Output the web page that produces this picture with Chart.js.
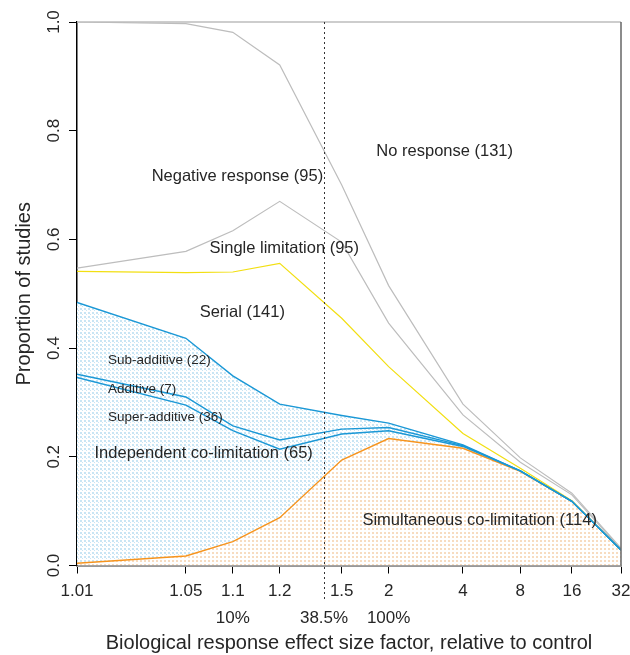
<!DOCTYPE html>
<html>
<head>
<meta charset="utf-8">
<script src="https://cdn.jsdelivr.net/npm/chart.js@4.4.1/dist/chart.umd.min.js"></script>
<style>
    html, body { margin: 0; padding: 0; background: #fff; }
</style>
</head>
<body>
<canvas id="graficoLimitacao" width="630" height="655"></canvas>
<script>
// fator de efeito (eixo x) e fronteiras acumuladas de cada categoria
const fatores = [1.01, 1.05, 1.1, 1.2, 1.5, 2, 4, 8, 16, 32];
const semResposta = [1.0, 0.997, 0.981, 0.921, 0.70, 0.515, 0.297, 0.198, 0.133, 0.032];
const respostaNegativa = [0.547, 0.578, 0.616, 0.670, 0.595, 0.446, 0.277, 0.190, 0.130, 0.030];
const limitacaoSimples = [0.541, 0.539, 0.540, 0.556, 0.455, 0.366, 0.243, 0.179, 0.119, 0.0285];
const serial = [0.484, 0.418, 0.349, 0.297, 0.276, 0.262, 0.222, 0.174, 0.118, 0.0285];
const subAditivo = [0.352, 0.310, 0.257, 0.231, 0.251, 0.254, 0.2205, 0.174, 0.118, 0.0285];
const aditivo = [0.346, 0.295, 0.248, 0.214, 0.242, 0.248, 0.219, 0.174, 0.118, 0.0285];
const simultanea = [0.004, 0.0175, 0.044, 0.088, 0.194, 0.2335, 0.2157, 0.173, 0.118, 0.0285];

const rotulosX = ['1.01', '1.05', '1.1', '1.2', '1.5', '2', '4', '8', '16', '32'];
const fatoresPct = [1.1, 1.385, 2];
const rotulosPct = ['10%', '38.5%', '100%'];
const ticksY = [0, 0.2, 0.4, 0.6, 0.8, 1.0];
const rotulosY = ['0.0', '0.2', '0.4', '0.6', '0.8', '1.0'];
const linhaReferencia = 1.385;

// rótulos de texto dentro do gráfico: [texto, fator, proporção, tamanho, alinhamento]
const anotacoes = [
    ['No response (131)', 3.29, 0.762, 16.5, 'center'],
    ['Negative response (95)', 1.107, 0.715, 16.5, 'center'],
    ['Single limitation (95)', 1.214, 0.584, 16.5, 'center'],
    ['Serial (141)', 1.115, 0.465, 16.5, 'center'],
    ['Sub-additive (22)', 1.0158, 0.378, 13.5, 'left'],
    ['Additive (7)', 1.0158, 0.324, 13.5, 'left'],
    ['Super-additive (36)', 1.0158, 0.272, 13.5, 'left'],
    ['Independent co-limitation (65)', 1.065, 0.2065, 16.5, 'center'],
    ['Simultaneous co-limitation (114)', 4.84, 0.0837, 16.5, 'center']
];

const fonte = 'Liberation Sans, Arial, sans-serif';
const corTexto = '#262626';

function pontos(valores) {
    return fatores.map((f, i) => ({ x: f - 1, y: valores[i] }));
}

function padrao(cor, celulas) {
    const c = document.createElement('canvas');
    c.width = 4;
    c.height = 4;
    const g = c.getContext('2d');
    g.fillStyle = '#ffffff';
    g.fillRect(0, 0, 4, 4);
    g.fillStyle = cor;
    celulas.forEach(([x, y, w]) => g.fillRect(x, y, w, w));
    return g.createPattern(c, 'repeat');
}

const padraoAzul = padrao('#c9e5f4', [[0, 0, 2], [2, 2, 1]]);
const padraoLaranja = padrao('#f7dcc0', [[0, 0, 2]]);

function linha(valores, cor, largura, ordem, extra) {
    return Object.assign({
        data: pontos(valores),
        borderColor: cor,
        borderWidth: largura,
        pointRadius: 0,
        tension: 0,
        fill: false,
        order: ordem
    }, extra || {});
}

function ajustarEixoX(altura) {
    return s => {
        s.height = altura;
        s.paddingLeft = 0;
        s.paddingRight = 9;
    };
}

const decoracao = {
    id: 'decoracao',
    afterDatasetsDraw(chart) {
        const { ctx, chartArea: a, scales: { x, y } } = chart;
        ctx.save();
        // moldura superior e direita
        ctx.lineWidth = 1.5;
        ctx.strokeStyle = '#bdbdbd';
        ctx.beginPath();
        ctx.moveTo(a.left, a.top);
        ctx.lineTo(a.right, a.top);
        ctx.stroke();
        ctx.strokeStyle = '#666';
        ctx.beginPath();
        ctx.moveTo(a.right, a.top);
        ctx.lineTo(a.right, a.bottom);
        ctx.stroke();

        // linha pontilhada de referência
        const xl = Math.round(x.getPixelForValue(linhaReferencia - 1)) + 0.5;
        ctx.setLineDash([2, 3]);
        ctx.lineWidth = 1;
        ctx.strokeStyle = '#333';
        ctx.beginPath();
        ctx.moveTo(xl, a.top);
        ctx.lineTo(xl, a.bottom + 36);
        ctx.stroke();
        ctx.setLineDash([]);

        // rótulos das categorias
        ctx.fillStyle = corTexto;
        ctx.textBaseline = 'middle';
        anotacoes.forEach(([texto, f, p, tam, alinhamento]) => {
            ctx.font = tam + 'px ' + fonte;
            ctx.textAlign = alinhamento;
            ctx.fillText(texto, x.getPixelForValue(f - 1), y.getPixelForValue(p));
        });
        ctx.restore();
    },
    afterDraw(chart) {
        const { ctx, scales: { y } } = chart;
        ctx.save();
        ctx.fillStyle = corTexto;
        ctx.font = '17px ' + fonte;
        ctx.textAlign = 'center';
        ctx.textBaseline = 'middle';
        ticksY.forEach((v, i) => {
            ctx.save();
            ctx.translate(54, y.getPixelForValue(v));
            ctx.rotate(-Math.PI / 2);
            ctx.fillText(rotulosY[i], 0, 0);
            ctx.restore();
        });
        ctx.restore();
    }
};

const ctx = document.getElementById('graficoLimitacao').getContext('2d');
new Chart(ctx, {
    type: 'line',
    data: {
        datasets: [
            linha(semResposta, '#bdbdbd', 1.2, 5),
            linha(respostaNegativa, '#bdbdbd', 1.2, 5),
            linha(limitacaoSimples, '#f2df12', 1.2, 4),
            linha(serial, '#1b98d6', 1.4, 3, { fill: 6, backgroundColor: padraoAzul }),
            linha(subAditivo, '#1b98d6', 1.4, 2),
            linha(aditivo, '#1b98d6', 1.4, 1),
            linha(simultanea, '#f7941d', 1.4, 6, { fill: 'origin', backgroundColor: padraoLaranja })
        ]
    },
    options: {
        responsive: false,
        animation: false,
        devicePixelRatio: 1,
        layout: { padding: { top: 22, right: 0, left: 0, bottom: 0 } },
        plugins: {
            legend: { display: false },
            tooltip: { enabled: false },
            filler: { drawTime: 'beforeDatasetsDraw' }
        },
        scales: {
            x: {
                type: 'logarithmic',
                position: 'bottom',
                weight: 0,
                min: 0.01,
                max: 31,
                afterBuildTicks: s => { s.ticks = fatores.map(f => ({ value: f - 1 })); },
                afterFit: ajustarEixoX(35),
                grid: { drawOnChartArea: false, tickLength: 8, tickColor: '#000', lineWidth: 1 },
                border: { color: '#999', width: 2 },
                ticks: {
                    autoSkip: false,
                    maxRotation: 0,
                    padding: 8,
                    color: corTexto,
                    font: { family: fonte, size: 17 },
                    callback: (v, i) => rotulosX[i]
                }
            },
            x2: {
                type: 'logarithmic',
                position: 'bottom',
                weight: 1,
                min: 0.01,
                max: 31,
                afterBuildTicks: s => { s.ticks = fatoresPct.map(f => ({ value: f - 1 })); },
                afterFit: ajustarEixoX(54.5),
                grid: { display: false, drawTicks: false },
                border: { display: false },
                ticks: {
                    autoSkip: false,
                    maxRotation: 0,
                    padding: 8,
                    color: corTexto,
                    font: { family: fonte, size: 17 },
                    callback: (v, i) => rotulosPct[i]
                },
                title: {
                    display: true,
                    text: 'Biological response effect size factor, relative to control',
                    color: corTexto,
                    font: { family: fonte, size: 20 },
                    padding: { top: 0, bottom: 0 }
                }
            },
            y: {
                type: 'linear',
                min: 0,
                max: 1,
                afterBuildTicks: s => { s.ticks = ticksY.map(v => ({ value: v })); },
                afterFit: s => { s.width = 77; s.paddingTop = 0; s.paddingBottom = 0; },
                grid: { drawOnChartArea: false, tickLength: 8, tickColor: '#000', lineWidth: 1 },
                border: { color: '#000', width: 1.5 },
                ticks: { display: false },
                title: {
                    display: true,
                    text: 'Proportion of studies',
                    color: corTexto,
                    font: { family: fonte, size: 20 },
                    padding: { top: 12, bottom: 0 }
                }
            }
        }
    },
    plugins: [decoracao]
});
</script>
</body>
</html>
